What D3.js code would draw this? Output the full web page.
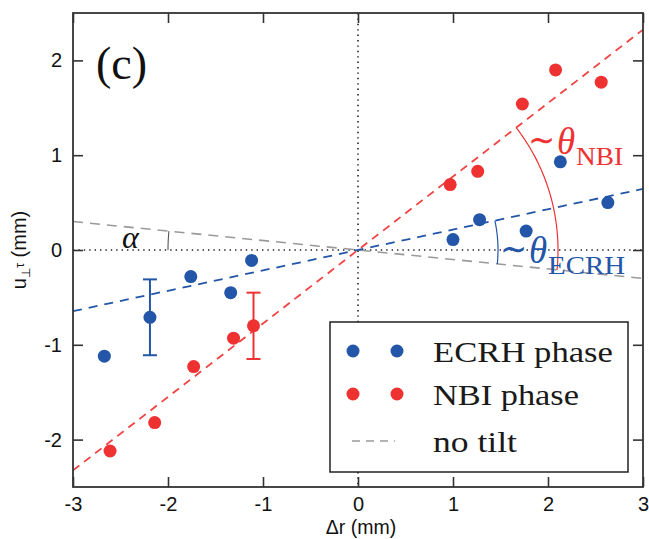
<!DOCTYPE html>
<html>
<head>
<meta charset="utf-8">
<script src="https://cdn.jsdelivr.net/npm/d3@7/dist/d3.min.js"></script>
<style>
  html, body { margin: 0; padding: 0; background: #fff; }
  svg { display: block; }
</style>
</head>
<body>
<svg id="chart" width="649" height="539"></svg>
<script>
// Radial displacement vs. u_perp * tau for the two heating phases
const ecrhDr   = [-2.67, -2.19, -1.76, -1.34, -1.12, 1.00, 1.28, 1.77, 2.13, 2.63];
const ecrhU    = [-1.12, -0.71, -0.28, -0.45, -0.11, 0.11, 0.32, 0.20, 0.93, 0.50];
const nbiDr    = [-2.61, -2.14, -1.73, -1.31, -1.10, 0.97, 1.26, 1.73, 2.08, 2.56];
const nbiU     = [-2.12, -1.82, -1.23, -0.93, -0.80, 0.69, 0.83, 1.54, 1.90, 1.77];
// single representative error bars (index into the series, half-width)
const ecrhErr  = [{ i: 1, e: 0.40 }];
const nbiErr   = [{ i: 4, e: 0.35 }];
// linear fits through the origin
const slopeEcrh   = 0.215;
const slopeNbi    = 0.775;
const slopeNoTilt = -0.10;

const xTicks = [-3, -2, -1, 0, 1, 2, 3];
const yTicks = [-2, -1, 0, 1, 2];
const legendLabels = ["ECRH phase", "NBI phase", "no tilt"];

const BLUE = "#2356a8";
const RED = "#ee3232";
const RED_LINE = "#f04343";
const GRAY = "#9a9a9a";

const svg = d3.select("#chart");
const L = 73, R = 643, T = 13, B = 487;
const x = d3.scaleLinear().domain([-3, 3]).range([L, R]);
const y = d3.scaleLinear().domain([-2.5, 2.5]).range([B, T]);

svg.append("defs").append("clipPath").attr("id", "plotclip")
  .append("rect").attr("x", L).attr("y", T).attr("width", R - L).attr("height", B - T);

const plot = svg.append("g").attr("clip-path", "url(#plotclip)");

// zero reference lines (dotted)
plot.append("line")
  .attr("x1", x(-3)).attr("x2", x(3)).attr("y1", y(0)).attr("y2", y(0))
  .attr("stroke", "#222").attr("stroke-width", 1.6).attr("stroke-dasharray", "1.4,4");
plot.append("line")
  .attr("x1", x(0)).attr("x2", x(0)).attr("y1", y(2.5)).attr("y2", y(-2.5))
  .attr("stroke", "#222").attr("stroke-width", 1.6).attr("stroke-dasharray", "1.4,4");

// fit lines
function fitLine(slope, color, dash, width) {
  plot.append("line")
    .attr("x1", x(-3)).attr("y1", y(-3 * slope))
    .attr("x2", x(3)).attr("y2", y(3 * slope))
    .attr("stroke", color).attr("stroke-width", width)
    .attr("stroke-dasharray", dash);
}
fitLine(slopeNoTilt, GRAY, "10,7", 1.6);
fitLine(slopeEcrh, BLUE, "9,7", 1.8);
fitLine(slopeNbi, RED_LINE, "8,6", 1.8);

// angle arcs, centred on the origin
const ox = x(0), oy = y(0);
function arc(r, a0, a1, color, w) {
  const n = 60;
  const pts = d3.range(n + 1).map(k => {
    const a = a0 + (a1 - a0) * k / n;
    return [ox + r * Math.cos(a), oy - r * Math.sin(a)];
  });
  plot.append("path").attr("d", d3.line()(pts))
    .attr("fill", "none").attr("stroke", color).attr("stroke-width", w);
}
const pxSlope = s => (y(0) - y(s)) / (x(1) - x(0));
const angNoTilt = Math.atan(pxSlope(slopeNoTilt));
arc(200, Math.atan(pxSlope(slopeNbi)), angNoTilt, RED, 1.2);
arc(140, Math.atan(pxSlope(slopeEcrh)), angNoTilt, BLUE, 1.2);
arc(190, Math.PI, Math.PI + angNoTilt, "#555", 1.1);

// error bars
function errBars(list, xs, ys, color) {
  list.forEach(({ i, e }) => {
    const cx = x(xs[i]);
    const g = plot.append("g").attr("stroke", color).attr("stroke-width", 2);
    g.append("line").attr("x1", cx).attr("x2", cx).attr("y1", y(ys[i] + e)).attr("y2", y(ys[i] - e));
    g.append("line").attr("x1", cx - 7).attr("x2", cx + 7).attr("y1", y(ys[i] + e)).attr("y2", y(ys[i] + e));
    g.append("line").attr("x1", cx - 7).attr("x2", cx + 7).attr("y1", y(ys[i] - e)).attr("y2", y(ys[i] - e));
  });
}
errBars(ecrhErr, ecrhDr, ecrhU, BLUE);
errBars(nbiErr, nbiDr, nbiU, RED);

// points
function points(xs, ys, color) {
  plot.append("g").selectAll("circle").data(xs).join("circle")
    .attr("cx", d => x(d)).attr("cy", (d, i) => y(ys[i]))
    .attr("r", 6.5).attr("fill", color);
}
points(ecrhDr, ecrhU, BLUE);
points(nbiDr, nbiU, RED);

// axes: inward ticks on all four sides
const sans = "'Liberation Sans', Arial, sans-serif";
const serif = "'Liberation Serif', 'Times New Roman', serif";
const fmt = d => String(d);

const axB = svg.append("g").attr("transform", `translate(0,${B})`)
  .call(d3.axisBottom(x).tickValues(xTicks).tickSize(-10).tickPadding(10).tickFormat(fmt));
const axL = svg.append("g").attr("transform", `translate(${L},0)`)
  .call(d3.axisLeft(y).tickValues(yTicks).tickSize(-10).tickPadding(11).tickFormat(fmt));
const axT = svg.append("g").attr("transform", `translate(0,${T})`)
  .call(d3.axisTop(x).tickValues(xTicks).tickSize(-10).tickFormat(""));
const axR = svg.append("g").attr("transform", `translate(${R},0)`)
  .call(d3.axisRight(y).tickValues(yTicks).tickSize(-10).tickFormat(""));
[axB, axL, axT, axR].forEach(a => {
  a.select(".domain").remove();
  a.selectAll(".tick line").attr("stroke", "#333").attr("stroke-width", 1.6);
  a.selectAll(".tick text").attr("fill", "#111").attr("font-size", 20).attr("font-family", sans);
});

svg.append("rect").attr("x", L).attr("y", T).attr("width", R - L).attr("height", B - T)
  .attr("fill", "none").attr("stroke", "#333").attr("stroke-width", 1.8);

// axis titles
svg.append("text").attr("x", 361).attr("y", 534).attr("text-anchor", "middle")
  .attr("font-family", sans).attr("font-size", 19.5).attr("fill", "#111").text("Δr (mm)");
const yl = svg.append("text").attr("transform", "translate(26,250) rotate(-90)")
  .attr("text-anchor", "middle").attr("font-family", sans).attr("font-size", 20).attr("fill", "#111");
yl.append("tspan").text("u");
yl.append("tspan").attr("font-size", 12).attr("dy", 4).text("⊥");
yl.append("tspan").attr("font-size", 13).attr("dy", -6).text("τ");
yl.append("tspan").attr("dy", 2).text(" (mm)");

// panel tag
svg.append("text").attr("x", 96).attr("y", 79).attr("font-family", serif)
  .attr("font-size", 46).attr("fill", "#111").text("(c)");

// angle annotations
svg.append("text").attr("x", 122).attr("y", 248).attr("font-family", serif)
  .attr("font-style", "italic").attr("font-size", 32).attr("fill", "#111").text("α");

function thetaLabel(x0, base, subBase, sub, color, subLen) {
  const t = svg.append("g").attr("fill", color).attr("font-family", serif);
  t.append("text").attr("x", x0).attr("y", base - 2).attr("font-size", 36)
    .attr("textLength", 27).attr("lengthAdjust", "spacingAndGlyphs").text("∼");
  t.append("text").attr("x", x0 + 29).attr("y", base).attr("font-size", 37)
    .attr("font-style", "italic").text("θ");
  t.append("text").attr("x", x0 + 48).attr("y", subBase).attr("font-size", 26)
    .attr("textLength", subLen).attr("lengthAdjust", "spacingAndGlyphs").text(sub);
}
thetaLabel(528, 154, 165, "NBI", RED, 47);
thetaLabel(500, 263, 274, "ECRH", BLUE, 77);

// legend
const lg = svg.append("g");
lg.append("rect").attr("x", 330).attr("y", 322).attr("width", 298).attr("height", 150)
  .attr("fill", "#fff").attr("stroke", "#222").attr("stroke-width", 1.5);
const rowsY = [351, 394, 441];
const textLens = [180, 146, 84];
[BLUE, RED].forEach((c, k) => {
  [353, 397].forEach(cx => lg.append("circle").attr("cx", cx).attr("cy", rowsY[k]).attr("r", 6.5).attr("fill", c));
});
lg.append("line").attr("x1", 352).attr("x2", 395).attr("y1", rowsY[2]).attr("y2", rowsY[2])
  .attr("stroke", GRAY).attr("stroke-width", 1.5).attr("stroke-dasharray", "8,6");
legendLabels.forEach((t, k) => {
  lg.append("text").attr("x", 433).attr("y", rowsY[k] + 11).attr("font-family", serif)
    .attr("font-size", 30).attr("font-weight", "normal").attr("fill", "#1a1a1a")
    .attr("textLength", textLens[k]).attr("lengthAdjust", "spacingAndGlyphs").text(t);
});
</script>
</body>
</html>
